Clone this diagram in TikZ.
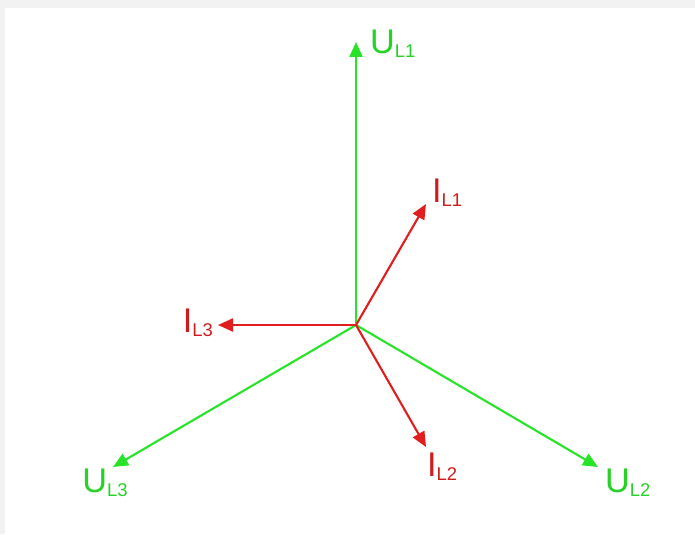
\documentclass[tikz,border=0pt]{standalone}
\usepackage{fontspec}
\setmainfont{Liberation Sans}
\usepackage{xcolor}
\usetikzlibrary{arrows.meta}
\definecolor{vgreen}{RGB}{40,228,40}
\definecolor{cred}{RGB}{224,30,30}
\newcommand{\phasor}[2]{{\fontsize{19.5}{19.5}\selectfont #1}{\fontsize{10.5}{10.5}\selectfont\raisebox{-0.4ex}{#2}}}

\begin{document}
\begin{tikzpicture}[x=0.02cm,y=-0.02cm,
  volt/.style={draw=vgreen,line width=1.2pt,-{Triangle[length=3mm,width=2.6mm]}},
  curr/.style={draw=cred,line width=1.2pt,-{Triangle[length=3mm,width=2.6mm]}},
  vlab/.style={text=vgreen!92!black,inner sep=1pt},
  clab/.style={text=cred!92!black,inner sep=1pt}]
\useasboundingbox (0,0) rectangle (695,534);
\fill[black!5] (0,0) rectangle (695,534);
\fill[white] (5,8) rectangle (695,534);
\coordinate (O) at (356,325);
\coordinate (u1) at (356,42);
\coordinate (u2) at (598,467);
\coordinate (u3) at (113,467);
\coordinate (i1) at (426,204);
\coordinate (i2) at (426,447);
\coordinate (i3) at (218,325);
\node[vlab,anchor=west] (U1) at (368,44) {\phasor{U}{L1}};
\node[vlab,anchor=north west] (U2) at (603,467) {\phasor{U}{L2}};
\node[vlab,anchor=north] (U3) at (105,467) {\phasor{U}{L3}};
\node[clab,anchor=west] (I1) at (430,193) {\phasor{I}{L1}};
\node[clab,anchor=north west] (I2) at (425,451) {\phasor{I}{L2}};
\node[clab,anchor=east] (I3) at (215,323) {\phasor{I}{L3}};
\draw[volt] (O) -- (u1);
\draw[volt] (O) -- (u2);
\draw[volt] (O) -- (u3);
\draw[curr] (O) -- (i1);
\draw[curr] (O) -- (i2);
\draw[curr] (O) -- (i3);
\end{tikzpicture}
\end{document}
